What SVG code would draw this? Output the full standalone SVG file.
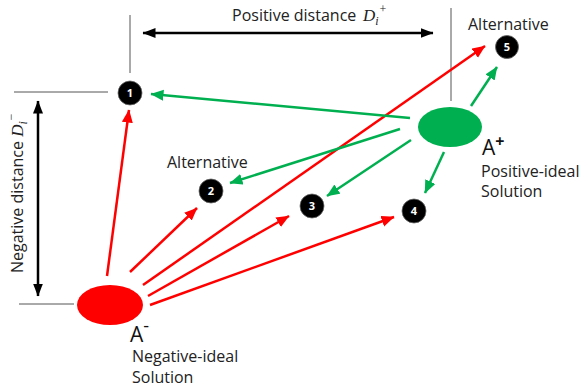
<svg xmlns="http://www.w3.org/2000/svg" width="582" height="388" viewBox="0 0 582 388">
<style>
.t{font-family:"Open Sans","Liberation Sans",sans-serif;font-size:16px;fill:#222}
.big{font-family:"Open Sans","Liberation Sans",sans-serif;font-size:21px;fill:#111}
.m{font-family:"Liberation Serif",serif;font-style:italic;fill:#222}
.num{font-family:"Open Sans","Liberation Sans",sans-serif;font-size:11px;font-weight:bold;fill:#fff;text-anchor:middle}
.node{fill:#000;stroke:#666;stroke-width:0.8}
.red{stroke:#ff0000;stroke-width:2.5;fill:none;marker-end:url(#ar)}
.grn{stroke:#00b050;stroke-width:2.5;fill:none;marker-end:url(#ag)}
.blk{stroke:#000;stroke-width:2.5;fill:none;marker-end:url(#ab);marker-start:url(#ab)}
.thin{stroke:#555;stroke-width:1;fill:none}
</style>
<defs>
<marker id="ar" markerUnits="userSpaceOnUse" markerWidth="14" markerHeight="12" refX="12.5" refY="5.5" orient="auto"><path d="M0,0 L13,5.5 L0,11 z" fill="#ff0000"/></marker>
<marker id="ag" markerUnits="userSpaceOnUse" markerWidth="14" markerHeight="12" refX="12.5" refY="5.5" orient="auto"><path d="M0,0 L13,5.5 L0,11 z" fill="#00b050"/></marker>
<marker id="ab" markerUnits="userSpaceOnUse" markerWidth="14" markerHeight="12" refX="12.5" refY="5" orient="auto-start-reverse"><path d="M0,0 L13,5 L0,10 z" fill="#000"/></marker>
</defs>
<g id="guides">
<line class="thin" x1="130" y1="15" x2="130" y2="73"/>
<line class="thin" x1="451" y1="8" x2="451" y2="101"/>
<line class="thin" x1="14" y1="92" x2="108" y2="92"/>
<line class="thin" x1="19" y1="304" x2="74" y2="304"/>
</g>
<g id="connectors">
<line class="blk" x1="143" y1="33" x2="433" y2="33"/>
<line class="blk" x1="38" y1="101" x2="38" y2="296"/>
<line class="red" x1="107" y1="276" x2="129" y2="110"/>
<line class="red" x1="130" y1="272" x2="197" y2="208"/>
<line class="red" x1="143" y1="285" x2="485" y2="46"/>
<line class="red" x1="148" y1="296" x2="289" y2="216"/>
<line class="red" x1="150" y1="305" x2="394" y2="217"/>
<line class="grn" x1="410" y1="118" x2="151" y2="94"/>
<line class="grn" x1="400" y1="129" x2="230" y2="183"/>
<line class="grn" x1="411" y1="140" x2="327" y2="196"/>
<line class="grn" x1="444" y1="152" x2="425" y2="193"/>
<line class="grn" x1="471" y1="106" x2="497" y2="67"/>
</g>
<g id="labels">
<text class="t" x="232" y="21">Positive distance <tspan class="m" font-size="17" x="363">D</tspan><tspan class="m" font-size="12" dy="4">i</tspan><tspan class="m" font-size="12" dy="-12">+</tspan></text>
<text class="t" transform="translate(23,273) rotate(-90)">Negative distance <tspan class="m" font-size="17">D</tspan><tspan class="m" font-size="12" dy="4">i</tspan><tspan class="m" font-size="12" dy="-12">−</tspan></text>
</g>
<g id="node-Aplus">
<ellipse cx="450" cy="127" rx="32" ry="20" fill="#00b050"/>
<text class="big" x="482" y="155">A<tspan font-size="16" font-weight="bold" dy="-8">+</tspan></text>
<text class="t" x="481" y="177">Positive-ideal</text>
<text class="t" x="481" y="197">Solution</text>
</g>
<g id="node-Aminus">
<ellipse cx="110" cy="305" rx="33" ry="20" fill="#ff0000"/>
<text class="big" x="130" y="342">A<tspan font-size="18" dy="-10">-</tspan></text>
<text class="t" x="132" y="362">Negative-ideal</text>
<text class="t" x="132" y="383">Solution</text>
</g>
<g id="node-1"><circle class="node" cx="130" cy="93" r="12"/><text class="num" x="130" y="97">1</text></g>
<g id="node-2"><circle class="node" cx="211" cy="191" r="12"/><text class="num" x="211" y="195">2</text><text class="t" x="167" y="168">Alternative</text></g>
<g id="node-3"><circle class="node" cx="312" cy="206" r="12"/><text class="num" x="312" y="210">3</text></g>
<g id="node-4"><circle class="node" cx="414" cy="211" r="12"/><text class="num" x="414" y="215">4</text></g>
<g id="node-5"><circle class="node" cx="507" cy="47" r="11.5"/><text class="num" x="507" y="51">5</text><text class="t" x="468" y="30">Alternative</text></g>
</svg>
